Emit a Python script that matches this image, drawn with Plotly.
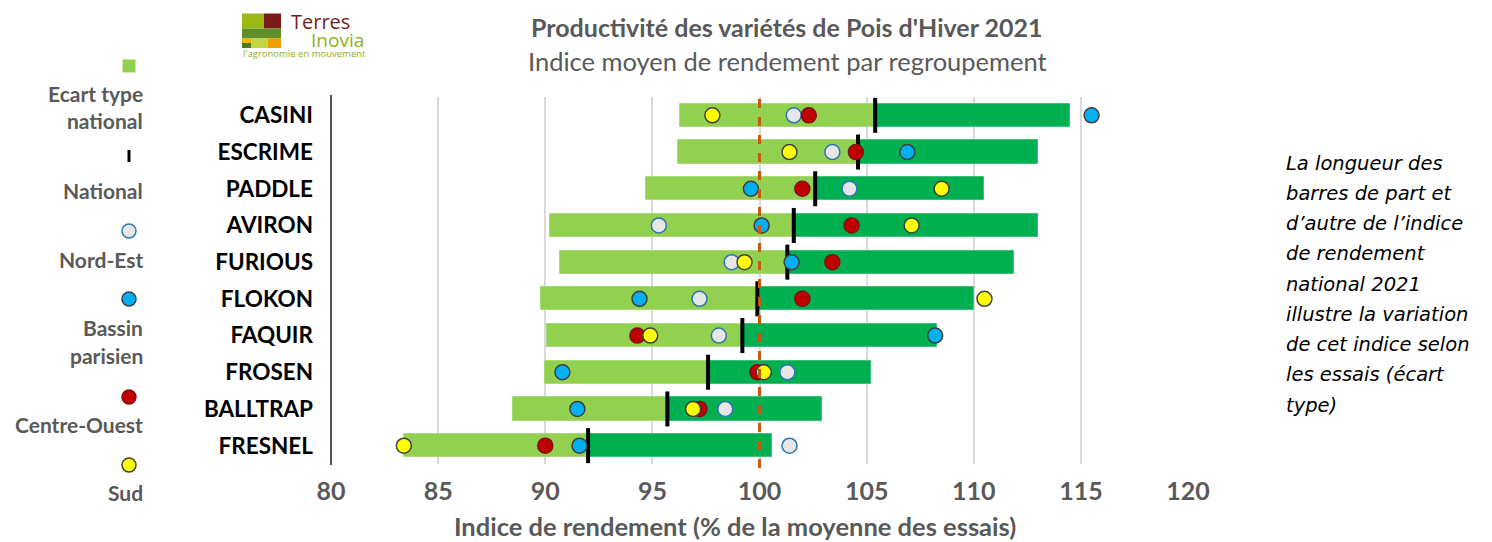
import plotly.graph_objects as go

# ---------------- data ----------------
varieties = ["CASINI", "ESCRIME", "PADDLE", "AVIRON", "FURIOUS",
             "FLOKON", "FAQUIR", "FROSEN", "BALLTRAP", "FRESNEL"]
national = [105.4, 104.6, 102.6, 101.6, 101.3, 99.9, 99.2, 97.6, 95.7, 92.0]
ecart_type = [9.1, 8.4, 7.9, 11.4, 10.6, 10.1, 9.1, 7.6, 7.2, 8.6]
nord_est = [101.6, 103.4, 104.2, 95.3, 98.7, 97.2, 98.1, 101.3, 98.4, 101.4]
bassin_parisien = [115.5, 106.9, 99.6, 100.1, 101.5, 94.4, 108.2, 90.8, 91.5, 91.6]
centre_ouest = [102.3, 104.5, 102.0, 104.3, 103.4, 102.0, 94.3, 99.9, 97.2, 90.0]
sud = [97.8, 101.4, 108.5, 107.1, 99.3, 110.5, 94.9, 100.2, 96.9, 83.4]
x_ticks = [80, 85, 90, 95, 100, 105, 110, 115, 120]
reference_value = 100

note_lines = ["La longueur des", "barres de part et", "d’autre de l’indice",
              "de rendement", "national 2021", "illustre la variation",
              "de cet indice selon", "les essais (écart", "type)"]

# ---------------- layout geometry (screen pixels) ----------------
OFF = 8                      # page body margin
WIDTH, HEIGHT = 1492 - OFF, 542 - OFF
L_S, R_S, T_S, B_S = 331, 1188, 97, 464   # plot area in screen pixels
L = L_S - OFF
T = T_S - OFF
PW = R_S - L_S
PH = B_S - T_S
R = WIDTH - L - PW
B = HEIGHT - T - PH
FONT = "Lato"
GREY_TXT = "#595959"


def px(x):
    return (x - L_S) / PW


def py(y):
    return 1 - (y - T_S) / PH


fig = go.Figure()

low = [n - s for n, s in zip(national, ecart_type)]
fig.add_trace(go.Bar(y=varieties, x=ecart_type, base=low, orientation="h",
                     marker=dict(color="#92D050", line=dict(color="#A9DA78", width=1)),
                     width=0.63, showlegend=False, hoverinfo="skip"))
fig.add_trace(go.Bar(y=varieties, x=ecart_type, base=national, orientation="h",
                     marker=dict(color="#00B050", line=dict(color="#3CC07A", width=1)),
                     width=0.63, showlegend=False, hoverinfo="skip"))

fig.add_trace(go.Scatter(y=varieties, x=national, mode="markers",
                         marker=dict(symbol="line-ns", size=25,
                                     line=dict(color="black", width=4)),
                         showlegend=False))

series = [
    (nord_est, "#E7E6E6", "#2E75B6"),
    (bassin_parisien, "#00B0F0", "#404040"),
    (centre_ouest, "#C00000", "#7F1010"),
    (sud, "#FFFF00", "#404040"),
]
for vals, fill, edge in series:
    fig.add_trace(go.Scatter(y=varieties, x=vals, mode="markers",
                             marker=dict(size=15, color=fill,
                                         line=dict(color=edge, width=1.5)),
                             showlegend=False))

shapes = []
shapes.append(dict(type="line", xref="x", yref="paper", x0=reference_value,
                   x1=reference_value, y0=py(468), y1=py(93),
                   line=dict(color="#C55A11", width=3, dash="dash"), layer="above"))
shapes.append(dict(type="line", xref="paper", yref="paper", x0=0, x1=0,
                   y0=py(465), y1=py(95), line=dict(color="#1a1a1a", width=1.5)))

# legend symbols
LX = 129
shapes.append(dict(type="rect", xref="paper", yref="paper",
                   x0=px(LX - 6.5), x1=px(LX + 6.5), y0=py(72.5), y1=py(59.5),
                   fillcolor="#92D050", line=dict(width=0)))
shapes.append(dict(type="rect", xref="paper", yref="paper",
                   x0=px(LX - 1.5), x1=px(LX + 1.5), y0=py(162), y1=py(150),
                   fillcolor="black", line=dict(width=0)))
leg_circles = [(231, "#E7E6E6", "#2E75B6"), (299, "#00B0F0", "#404040"),
               (397, "#C00000", "#7F1010"), (465, "#FFFF00", "#404040")]
for yy, fill, edge in leg_circles:
    shapes.append(dict(type="circle", xref="paper", yref="paper",
                       x0=px(LX - 7), x1=px(LX + 7), y0=py(yy + 7), y1=py(yy - 7),
                       fillcolor=fill, line=dict(color=edge, width=1.5)))

# logo blocks
logo = [
    (242, 264, 13.5, 28.5, "#9BB814"),
    (264, 281, 13.5, 28.5, "#7A1A18"),
    (242, 281, 28.5, 38.5, "#5E8F28"),
    (242, 251, 38.5, 43, "#F2B800"),
    (242, 251, 43, 48, "#4E7A1E"),
    (251, 267.5, 38.5, 48, "#C3D640"),
    (267.5, 281, 38.5, 48, "#F29F05"),
]
for x0, x1, y0, y1, c in logo:
    shapes.append(dict(type="rect", xref="paper", yref="paper",
                       x0=px(x0), x1=px(x1), y0=py(y1), y1=py(y0),
                       fillcolor=c, line=dict(width=0)))

ann = []


def text(x, y, s, size, color, bold=False, italic=False, xanchor="center", family=FONT):
    if bold:
        s = "<b>" + s + "</b>"
    if italic:
        s = "<i>" + s + "</i>"
    ann.append(dict(x=px(x), y=py(y), xref="paper", yref="paper", text=s,
                    showarrow=False, xanchor=xanchor, yanchor="middle",
                    font=dict(size=size, color=color, family=family)))


text(787, 27, "Productivité des variétés de Pois d'Hiver 2021", 25, GREY_TXT, bold=True)
text(787, 61, "Indice moyen de rendement par regroupement", 25.5, GREY_TXT)
text(735, 526, "Indice de rendement (% de la moyenne des essais)", 25.5, GREY_TXT, bold=True)

leg_labels = [(93, "Ecart type"), (121, "national"), (190, "National"),
              (259, "Nord-Est"), (327, "Bassin"), (355, "parisien"),
              (424, "Centre-Ouest"), (492, "Sud")]
for yy, s in leg_labels:
    text(145, yy, s, 21, GREY_TXT, bold=True, xanchor="right")

for i, s in enumerate(note_lines):
    text(1284, 163 + i * 30.25, s, 19.5, "black", italic=True, xanchor="left",
         family="DejaVu Sans")

text(289, 22, "Terres", 20, "#7A1A18", xanchor="left", family="Open Sans")
text(309, 40, "Inovia", 19, "#8DB11B", xanchor="left", family="Open Sans")
text(241, 53, "l'agronomie en mouvement", 9.5, "#8DB11B", xanchor="left", family="Open Sans")

fig.update_layout(
    width=WIDTH, height=HEIGHT,
    margin=dict(l=L, r=R, t=T, b=B, autoexpand=False),
    plot_bgcolor="white", paper_bgcolor="white",
    barmode="overlay", bargap=0,
    shapes=shapes, annotations=ann,
    font=dict(family=FONT),
    xaxis=dict(range=[80, 120], tickvals=x_ticks, ticktext=[str(v) for v in x_ticks],
               showgrid=True, gridcolor="#D9D9D9", gridwidth=1.5, zeroline=False,
               showline=False, ticks="", ticklabelstandoff=10, automargin=False,
               tickfont=dict(size=25, color=GREY_TXT, family=FONT, weight="bold")),
    yaxis=dict(categoryorder="array", categoryarray=varieties, range=[9.5, -0.5],
               showgrid=False, zeroline=False, showline=False, ticks="",
               ticklabelstandoff=17, automargin=False,
               tickfont=dict(size=22.5, color="black", family=FONT, weight="bold")),
)

fig.write_html("out.html")
